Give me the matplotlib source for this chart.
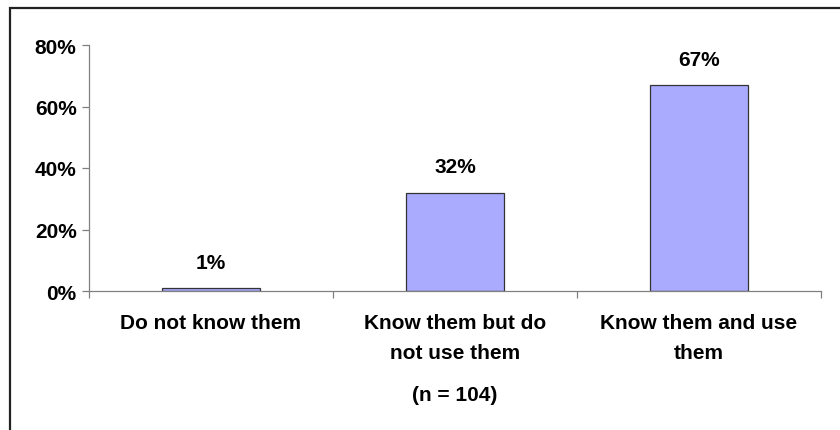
import matplotlib
matplotlib.use("Agg")
import matplotlib.pyplot as plt
from matplotlib.patches import Rectangle

# Data
categories = ["Do not know them", "Know them but do\nnot use them", "Know them and use\nthem"]
values = [1, 32, 67]
yticks = [0, 20, 40, 60, 80]
note = "(n = 104)"

plt.rcParams['font.family'] = ['Liberation Sans', 'DejaVu Sans']
plt.rcParams['font.weight'] = 'bold'
FS = 15

fig = plt.figure(figsize=(8.4, 4.31), dpi=100)
ax = fig.add_axes([89/840, 1-292/431, (821-89)/840, (292-46)/431])

x = list(range(len(categories)))
ax.bar(x, values, width=0.4, color='#AAAAFF', edgecolor='#333333', linewidth=0.9, zorder=2)

for xi, v in zip(x, values):
    ax.annotate(f"{v}%", (xi, v), xytext=(0, 18.5), textcoords='offset points',
                ha='center', va='center', fontsize=FS, fontweight='bold')

ax.set_xlim(-0.5, len(categories) - 0.5)
ax.set_ylim(0, 80)
ax.set_yticks(yticks)
ax.set_yticklabels([f"{t}%" for t in yticks], fontsize=FS, fontweight='bold')
ax.tick_params(axis='y', direction='out', length=5, width=0.9, color='#808080', pad=4)

# category boundary ticks on the x axis
ax.set_xticks([i - 0.5 for i in range(len(categories) + 1)])
ax.set_xticklabels([])
ax.tick_params(axis='x', direction='out', length=5, width=0.9, color='#808080')
for xi, c in zip(x, categories):
    ax.text(xi, -7.3, c, ha='center', va='top', fontsize=FS, fontweight='bold',
            linespacing=1.68)
ax.text(1, -33.5, note, ha='center', va='center', fontsize=FS, fontweight='bold')

for s in ['top', 'right']:
    ax.spines[s].set_visible(False)
for s in ['left', 'bottom']:
    ax.spines[s].set_color('#808080')
    ax.spines[s].set_linewidth(0.9)

# outer chart border (only top and left visible in the picture)
fig.patches.append(Rectangle((10/840, -0.1), 1.2, 1 - 9/431 + 0.1, transform=fig.transFigure,
                             fill=False, edgecolor='#222222', linewidth=1.6))

fig.savefig("out.png", dpi=100)
